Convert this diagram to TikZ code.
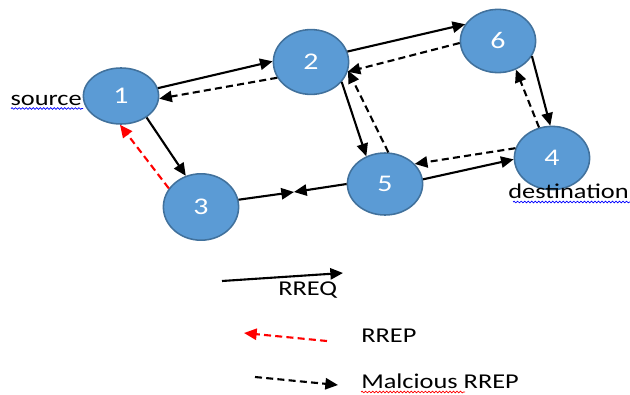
\documentclass[tikz,border=0pt]{standalone}
\usepackage{fontspec}
\setmainfont{Carlito}[FakeStretch=1.25]
\usetikzlibrary{arrows.meta,shapes.geometric,positioning,decorations.pathmorphing}
\definecolor{moteblue}{HTML}{5B9BD5}
\definecolor{moteedge}{HTML}{41719C}
\tikzset{
  mote/.style={ellipse,draw=moteedge,line width=1.1pt,fill=moteblue,text=white,
    minimum width=1.88cm,minimum height=1.58cm,inner sep=0pt,font=\fontsize{17}{19}\selectfont},
  req/.style={line width=1.5pt,-{Triangle[length=9pt,width=8pt]}},
  rep/.style={req,dash pattern=on 5pt off 3pt},
  squiggle/.style={decorate,decoration={snake,amplitude=0.6pt,segment length=2.5pt},line width=0.5pt}
}

\begin{document}
\begin{tikzpicture}[x=0.025cm,y=-0.025cm,font=\fontsize{15}{17}\selectfont]
\useasboundingbox (0,0) rectangle (630,394);
\node[mote,minimum height=1.4cm] (n1) at (121,96) {1};
\node[mote,minimum height=1.62cm] (n2) at (311,62) {2};
\node[mote] (n6) at (498,41) {6};
\node[mote] (n4) at (552,158) {4};
\node[mote,minimum height=1.55cm] (n5) at (385,184) {5};
\node[mote,minimum height=1.66cm] (n3) at (201,207) {3};
\node[anchor=base east,inner sep=0pt] (src) at (82,105) {source};
\node[anchor=base east,inner sep=0pt] (dst) at (629,198) {destination};
\draw[squiggle,blue] (11,108.5) -- (83,108.5);
\draw[squiggle,blue] (513,202) -- (630,202);

\draw[req] (n1.12) -- (n2.179);
\draw[rep] (n2.205) -- (n1.356);
\draw[req] (n1.320) -- (n3.116);
\draw[rep,red] (n3.150) -- (n1.268);
\coordinate (meet) at (294,192);
\draw[req] (n3.11) -- (meet);
\draw[req] (n5.180) -- (meet);
\draw[req] (n2.16) -- (n6.153);
\draw[rep] (n6.183) -- (n2.345);
\draw[req] (n2.327) -- (n5.124);
\draw[rep] (n5.84) -- (n2.347);
\draw[req] (n6.336) -- (n4.93);
\draw[rep] (n4.113) -- (n6.302);
\draw[rep] (n4.165) -- (n5.34);
\draw[req] (n5.7) -- (n4.182);

\coordinate (q1) at (222,281); \coordinate (q2) at (343,273);
\draw[req] (q1) -- (q2);
\node[anchor=base west,inner sep=0pt] (lreq) at (278,295) {RREQ};
\coordinate (p1) at (327,341); \coordinate (p2) at (244,333);
\draw[rep,red] (p1) -- (p2);
\node[anchor=base west,inner sep=0pt] (lrep) at (361,342) {RREP};
\coordinate (m1) at (255,377); \coordinate (m2) at (338,385);
\draw[rep] (m1) -- (m2);
\node[anchor=base west,inner sep=0pt] (lmal) at (361,388) {Malcious RREP};
\draw[squiggle,red] (361,392) -- (465,392);
\end{tikzpicture}
\end{document}
